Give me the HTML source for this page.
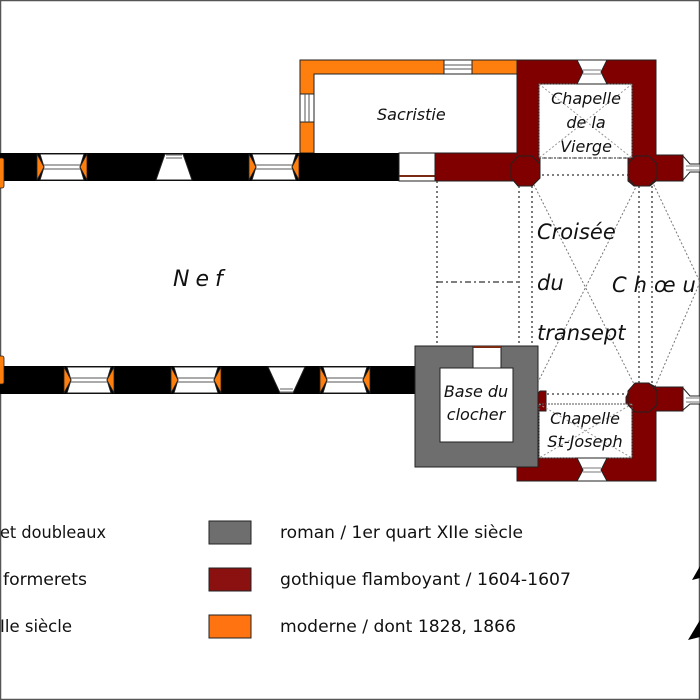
<!DOCTYPE html>
<html><head><meta charset="utf-8"><style>
html,body{margin:0;padding:0;background:#fff}
svg{display:block}
text{font-family:"DejaVu Sans","Liberation Sans",sans-serif}
</style></head><body>
<svg width="700" height="700" viewBox="0 0 700 700" xmlns="http://www.w3.org/2000/svg">
<rect x="0.5" y="0.5" width="699" height="699" fill="#fff" stroke="#555" stroke-width="1.5"/>
<!-- dotted structure lines -->
<g stroke="#333" stroke-width="1.3" stroke-dasharray="2,3" fill="none">
<line x1="437" y1="181" x2="437" y2="346"/>
<line x1="519" y1="181" x2="519" y2="346"/>
<line x1="532" y1="181" x2="532" y2="394"/>
<line x1="639" y1="181" x2="639" y2="394"/>
<line x1="652" y1="181" x2="652" y2="394"/>
<line x1="539" y1="158" x2="632" y2="158"/>
<line x1="532" y1="175" x2="639" y2="175"/>
<line x1="532" y1="394" x2="639" y2="394"/>
</g>
<line x1="437" y1="282" x2="519" y2="282" stroke="#333" stroke-width="1.3" stroke-dasharray="6,3,2,3"/>
<g stroke="#777" stroke-width="1" stroke-dasharray="2,2" fill="none">
<line x1="532" y1="181" x2="639" y2="394"/><line x1="639" y1="181" x2="532" y2="394"/>
<polyline points="652,181 700,282 652,394"/>
</g>
<!-- sacristie orange -->
<path d="M300,60H517V74H314V153H300Z" fill="#ff7f0e" stroke="#222" stroke-width="1"/>
<rect x="444" y="60" width="28" height="14" fill="#fff" stroke="#222"/>
<line x1="444" y1="65" x2="472" y2="65" stroke="#555"/><line x1="444" y1="69" x2="472" y2="69" stroke="#555"/>
<rect x="300" y="94" width="14" height="28" fill="#fff" stroke="#222"/>
<line x1="305" y1="94" x2="305" y2="122" stroke="#555"/><line x1="309" y1="94" x2="309" y2="122" stroke="#555"/>
<!-- north nave wall -->
<rect x="0" y="153" width="435" height="28" fill="#000"/>
<rect x="399" y="153" width="36" height="28" fill="#fff" stroke="#222"/>
<line x1="399" y1="176" x2="435" y2="176" stroke="#7a2a10" stroke-width="2"/>
<!-- south nave wall -->
<rect x="0" y="366" width="415" height="28" fill="#000"/>
<!-- windows -->
<g fill="#fff" stroke="#222" stroke-width="1">
<path d="M40,154H84L80,167L84,180H40L44,167Z"/>
<path d="M252,154H296L292,167L296,180H252L256,167Z"/>
<path d="M67,367H111L107,380L111,393H67L71,380Z"/>
<path d="M174,367H218L214,380L218,393H174L178,380Z"/>
<path d="M323,367H367L363,380L367,393H323L327,380Z"/>
<path d="M165,154H183L192,180H156Z"/>
<path d="M268,367H305L293,393H280Z"/>
</g>
<g fill="#ff7f0e" stroke="#222" stroke-width="0.8">
<path d="M37,154L44,167L37,180Z"/><path d="M87,154L80,167L87,180Z"/>
<path d="M249,154L256,167L249,180Z"/><path d="M299,154L292,167L299,180Z"/>
<path d="M64,367L71,380L64,393Z"/><path d="M114,367L107,380L114,393Z"/>
<path d="M171,367L178,380L171,393Z"/><path d="M221,367L214,380L221,393Z"/>
<path d="M320,367L327,380L320,393Z"/><path d="M370,367L363,380L370,393Z"/>
<rect x="-3" y="158" width="7" height="30" rx="2"/><rect x="-3" y="356" width="7" height="28" rx="2"/>
</g>
<g stroke="#777" stroke-width="1.2">
<line x1="44" y1="165" x2="80" y2="165"/><line x1="44" y1="169" x2="80" y2="169"/>
<line x1="256" y1="165" x2="292" y2="165"/><line x1="256" y1="169" x2="292" y2="169"/>
<line x1="71" y1="378" x2="107" y2="378"/><line x1="71" y1="382" x2="107" y2="382"/>
<line x1="178" y1="378" x2="214" y2="378"/><line x1="178" y1="382" x2="214" y2="382"/>
<line x1="327" y1="378" x2="363" y2="378"/><line x1="327" y1="382" x2="363" y2="382"/>
<line x1="166" y1="155" x2="182" y2="155"/><line x1="166" y1="158" x2="182" y2="158"/>
<line x1="280" y1="389" x2="293" y2="389"/><line x1="280" y1="392" x2="293" y2="392"/>
</g>
<!-- gothic red north -->
<g fill="#800000" stroke="#222" stroke-width="1">
<path d="M435,153H517V60H656V155H683V181H656L650,186H634L628,181V158H632V84H539V158H540V178L532,186H518L514,181H435Z"/>
<path d="M511,164L518,156H532L540,164V178L532,186H518L511,178Z"/>
<path d="M628,164L635,156H649L657,164V178L649,186H635L628,178Z"/>
<path d="M517,481V411H539V458H632V404H626V397L634,384H650L656,387H683V411H656V481Z"/>
<path d="M628,391L635,383H649L657,391V405L649,412H635L628,405Z"/>
<path d="M534,398L540,391H546V411H534Z"/>
</g>
<g stroke="#555" stroke-width="1" stroke-dasharray="2,1" fill="none">
<rect x="539" y="84" width="93" height="74"/>
<rect x="539" y="404" width="93" height="54"/>
</g>
<g stroke="#999" stroke-width="1" stroke-dasharray="2,2">
<line x1="539" y1="84" x2="632" y2="158"/><line x1="632" y1="84" x2="539" y2="158"/>
<line x1="539" y1="404" x2="632" y2="458"/><line x1="632" y1="404" x2="539" y2="458"/>
</g>
<!-- chapel windows -->
<g fill="#fff" stroke="#222">
<path d="M577,60H607L601,72L607,84H577L583,72Z"/>
<path d="M577,458H607L601,470L607,481H577L583,470Z"/>
<path d="M683,156L690,164L700,164V172L690,172L683,180Z"/>
<path d="M683,388L690,396L700,396V404L690,404L683,410Z"/>
</g>
<g stroke="#777"><line x1="583" y1="70" x2="601" y2="70"/><line x1="583" y1="74" x2="601" y2="74"/>
<line x1="583" y1="468" x2="601" y2="468"/><line x1="583" y1="472" x2="601" y2="472"/>
<line x1="686" y1="166" x2="700" y2="166"/><line x1="686" y1="170" x2="700" y2="170"/>
<line x1="686" y1="398" x2="700" y2="398"/><line x1="686" y1="402" x2="700" y2="402"/></g>
<!-- clocher -->
<rect x="415" y="346" width="123" height="121" fill="#6e6e6e" stroke="#222"/>
<rect x="440" y="368" width="73" height="74" fill="#fff" stroke="#222"/>
<rect x="473" y="346" width="28" height="22" fill="#fff" stroke="#222"/>
<line x1="473" y1="347" x2="501" y2="347" stroke="#7a2a10" stroke-width="2"/>
<!-- labels -->
<g fill="#111" font-style="italic">
<text x="173" y="286" font-size="22" letter-spacing="6">Nef</text>
<text x="377" y="120" font-size="16">Sacristie</text>
<text x="586" y="104" font-size="16" text-anchor="middle">Chapelle</text>
<text x="586" y="128" font-size="16" text-anchor="middle">de la</text>
<text x="586" y="152" font-size="16" text-anchor="middle">Vierge</text>
<text x="537" y="239" font-size="21">Croisée</text>
<text x="537" y="290" font-size="21">du</text>
<text x="537" y="340" font-size="21">transept</text>
<text x="612" y="292" font-size="21" letter-spacing="7">Chœur</text>
<text x="476" y="397" font-size="16" text-anchor="middle">Base du</text>
<text x="476" y="420" font-size="16" text-anchor="middle">clocher</text>
<text x="585" y="424" font-size="16" text-anchor="middle">Chapelle</text>
<text x="585" y="447" font-size="16" text-anchor="middle">St-Joseph</text>
</g>
<!-- legend -->
<g font-size="17" fill="#111" font-family="DejaVu Sans Condensed, DejaVu Sans, sans-serif">
<text x="0" y="538" textLength="106" lengthAdjust="spacingAndGlyphs">et doubleaux</text>
<text x="3" y="585" textLength="84" lengthAdjust="spacingAndGlyphs">formerets</text>
<text x="0" y="632" textLength="72" lengthAdjust="spacingAndGlyphs">Ile siècle</text>
<text x="280" y="538" textLength="243" lengthAdjust="spacingAndGlyphs">roman / 1er quart XIIe siècle</text>
<text x="280" y="585" textLength="291" lengthAdjust="spacingAndGlyphs">gothique flamboyant / 1604-1607</text>
<text x="280" y="632" textLength="236" lengthAdjust="spacingAndGlyphs">moderne / dont 1828, 1866</text>
</g>
<rect x="209" y="521" width="42" height="23" fill="#6e6e6e" stroke="#222"/>
<rect x="209" y="568" width="42" height="23" fill="#8b1111" stroke="#222"/>
<rect x="209" y="615" width="42" height="23" fill="#ff7410" stroke="#222"/>
<!-- north arrow -->
<path d="M700,566L692,580L700,578Z" fill="#000"/>
<path d="M700,620L688,640L700,637Z" fill="#000"/>
</svg>
</body></html>
